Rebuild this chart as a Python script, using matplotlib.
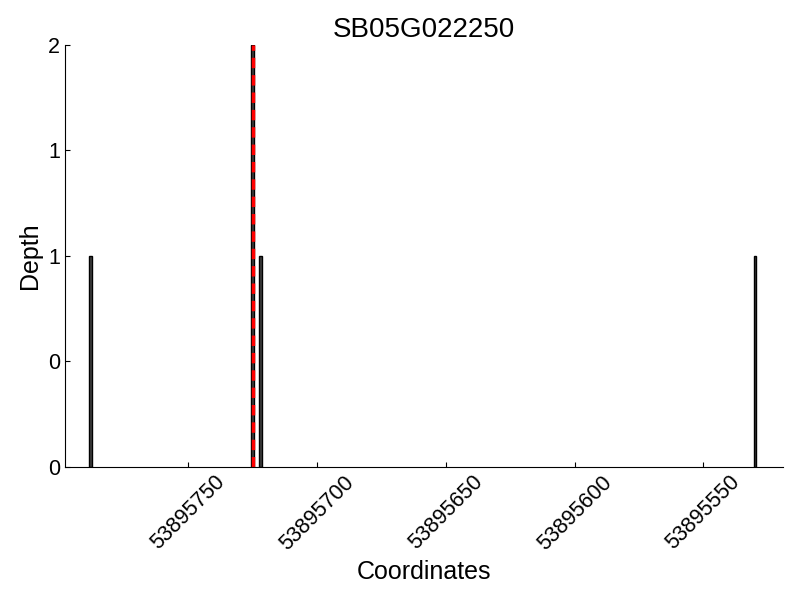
import matplotlib
matplotlib.use("Agg")
import matplotlib.pyplot as plt
from matplotlib.ticker import FormatStrFormatter

plt.rcParams['font.family'] = ['Liberation Sans', 'DejaVu Sans']

# read coverage depth
positions = [53895788, 53895725, 53895722, 53895530]
depths = [1, 2, 1, 1]
marker_pos = 53895725  # red dashed line
x_ticks = [53895750, 53895700, 53895650, 53895600, 53895550]
y_ticks = [0, 0.5, 1, 1.5, 2]

fig = plt.figure(figsize=(8, 6), dpi=100)
ax = fig.add_axes([0.081, 0.222, 0.898, 0.703])

ax.bar(positions, depths, width=1, color='#404040', edgecolor='black', linewidth=1)
ax.axvline(marker_pos, color='red', linestyle=(0, (3, 2)), linewidth=2.5)

ax.set_xlim(53895798, 53895519)
ax.set_ylim(0, 2)
ax.set_xticks(x_ticks)
ax.set_yticks(y_ticks)
ax.yaxis.set_major_formatter(FormatStrFormatter('%d'))
ax.xaxis.set_major_formatter(FormatStrFormatter('%d'))

for s in ['top', 'right']:
    ax.spines[s].set_visible(False)
ax.tick_params(direction='in', labelsize=15.5)
plt.setp(ax.get_xticklabels(), rotation=45)

ax.set_title('SB05G022250', fontsize=20)
ax.set_xlabel('Coordinates', fontsize=18)
ax.set_ylabel('Depth', fontsize=18)

fig.savefig('out.png', dpi=100)
